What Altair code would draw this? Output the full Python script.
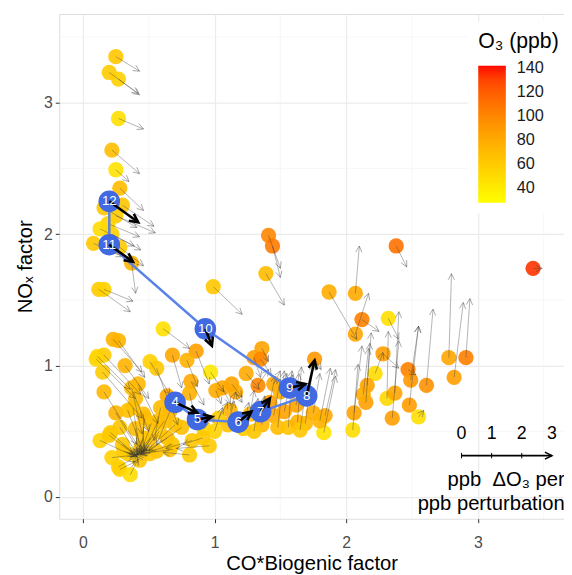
import altair as alt
import numpy as np
import pandas as pd

# ---------------- data ----------------
# scatter points: position, O3 (ppb) and arrow vector (data units)
X = [0.25, 0.20, 0.27, 0.27, 0.22, 0.25, 0.28, 0.30, 0.16, 0.25, 0.19, 0.13, 0.22, 0.08, 0.28, 0.37, 0.12, 0.16,
     1.41, 1.44, 1.39, 0.99, 0.61, 2.38, 3.42, 1.87, 2.07,
     2.12, 2.32, 2.07, 2.28, 2.47, 2.49, 2.61, 2.78, 2.91, 2.82, 2.22, 2.16, 2.15, 2.31, 2.37, 2.35, 2.48, 2.55,
     2.06, 2.05, 1.83, 1.84, 1.76, 2.13,
     1.36, 1.30, 1.35, 1.24, 1.33, 1.13, 1.16, 1.06, 1.01, 0.82, 0.86, 0.79, 0.68, 0.97, 1.45, 1.50,
     1.36, 1.45, 1.48, 1.56, 1.53, 1.63, 1.69, 1.62, 1.42, 1.27, 1.22, 1.10, 1.03, 1.00, 1.12, 1.75, 1.80, 1.65,
     1.30, 0.92,
     0.23, 0.27, 0.11, 0.16, 0.32, 0.15, 0.51, 0.56, 0.42, 0.16, 0.40, 0.64, 0.81, 0.25, 0.34, 0.47, 0.57, 0.66,
     0.13, 0.21, 0.28, 0.51, 0.64, 0.75, 0.83, 0.96, 0.81, 0.22, 0.31, 0.28, 0.36, 0.43, 0.56, 0.66, 0.91, 0.37,
     0.59, 0.46, 0.38, 0.20, 0.58, 0.46, 0.68, 0.51, 0.34, 0.27, 0.70, 0.10,
     0.40, 0.52, 0.30, 0.62, 0.44]
Y = [3.35, 3.23, 3.18, 2.88, 2.64, 2.49, 2.35, 2.22, 2.20, 2.14, 2.08, 2.04, 2.00, 1.93, 1.90, 1.78, 1.58, 1.58,
     1.99, 1.91, 1.70, 1.60, 1.28, 1.91, 1.74, 1.56, 1.55,
     1.35, 1.36, 1.24, 1.09, 0.97, 0.89, 0.85, 1.06, 1.06, 0.91, 0.94, 0.85, 0.72, 0.75, 0.79, 0.60, 0.70, 0.61,
     0.64, 0.51, 0.49, 0.62, 1.05, 0.78,
     1.13, 1.06, 1.05, 0.94, 0.85, 0.86, 0.80, 0.83, 0.81, 0.88, 1.11, 1.04, 1.08, 0.95, 0.86, 0.80,
     0.55, 0.62, 0.53, 0.53, 0.65, 0.57, 0.56, 0.70, 0.72, 0.63, 0.52, 0.55, 0.60, 0.50, 0.66, 0.64, 0.58, 0.51,
     0.50, 0.52,
     1.20, 1.19, 1.07, 1.08, 1.00, 0.95, 1.03, 0.98, 0.86, 0.80, 0.75, 0.77, 0.79, 0.64, 0.66, 0.60, 0.58, 0.65,
     0.43, 0.49, 0.53, 0.45, 0.45, 0.53, 0.43, 0.39, 0.32, 0.30, 0.35, 0.21, 0.17, 0.28, 0.35, 0.36, 0.45, 0.83,
     0.68, 0.63, 0.68, 0.47, 0.50, 0.45, 0.40, 0.33, 0.33, 0.23, 0.55, 1.05,
     0.52, 0.56, 0.40, 0.58, 0.38]
O3 = [62, 60, 58, 48, 68, 46, 70, 64, 62, 60, 56, 50, 58, 62, 60, 74, 60, 56,
      100, 106, 70, 62, 48, 110, 134, 78, 80,
      102, 48, 82, 86, 102, 90, 94, 82, 104, 86, 50, 84, 86, 52, 82, 86, 88, 48,
      84, 50, 46, 80, 90, 78,
      84, 86, 100, 80, 100, 84, 80, 82, 78, 80, 86, 76, 82, 42, 80, 76,
      72, 80, 70, 66, 84, 76, 72, 84, 88, 70, 60, 66, 60, 56, 74, 78, 74, 62,
      64, 54,
      76, 74, 52, 60, 74, 60, 58, 62, 72, 72, 70, 80, 76, 74, 66, 70, 68, 74,
      56, 60, 64, 66, 70, 68, 62, 60, 60, 58, 62, 56, 50, 64, 66, 66, 62, 70,
      70, 70, 66, 62, 64, 64, 64, 62, 60, 58, 66, 54,
      68, 66, 62, 68, 64]
DX = [0.18, 0.22, 0.16, 0.19, 0.21, 0.10, 0.18, 0.24, 0.25, 0.30, 0.24, 0.26, 0.22, 0.22, 0.18, 0.03, 0.24, 0.22,
      0.09, 0.06, 0.14, 0.22, 0.20, 0.08, 0.07, 0.21, 0.03,
      0.13, 0.08, 0.10, 0.12, 0.06, 0.06, 0.05, 0.02, 0.03, 0.07, 0.06, 0.03, 0.03, 0.01, 0.03, 0.05, 0.07, 0.04,
      0.06, 0.04, 0.09, 0.08, 0.05, 0.04,
      0.05, 0.05, 0.08, 0.10, 0.08, 0.08, 0.05, 0.06, 0.04, 0.10, 0.10, 0.08, 0.07, 0.10, 0.05, 0.05,
      0.02, 0.05, 0.05, 0.03, 0.06, 0.03, 0.06, 0.02, 0.04, 0.03, 0.04, 0.05, 0.07, 0.06, 0.04, 0.05, 0.08, 0.05,
      0.03, 0.08,
      0.22, 0.20, 0.25, 0.28, 0.18, 0.30, 0.15, 0.10, 0.15, 0.25, 0.10, 0.08, 0.05, 0.18, 0.12, -0.03, -0.10, -0.10,
      0.26, 0.20, 0.13, -0.10, -0.18, -0.25, -0.20, -0.25, -0.20, 0.18, 0.10, 0.12, 0.06, -0.02, -0.12, -0.22, -0.15, 0.08,
      -0.05, 0.00, 0.05, 0.18, -0.12, -0.05, -0.25, -0.10, 0.07, 0.14, -0.22, 0.30,
      0.02, -0.08, 0.10, -0.18, -0.02]
DY = [-0.11, -0.16, -0.12, -0.08, -0.18, -0.09, -0.17, -0.16, -0.15, -0.13, -0.10, -0.13, -0.12, -0.10, -0.14, -0.23, -0.17, -0.09,
      -0.25, -0.24, -0.24, -0.21, -0.15, -0.16, 0.00, -0.36, 0.36,
      -0.09, -0.16, 0.31, -0.11, -0.04, 0.41, 0.58, 0.64, 0.45, 0.57, 0.16, 0.40, 0.45, 0.51, 0.62, 0.59, 0.60, 0.05,
      0.51, 0.50, 0.43, 0.35, -0.08, 0.35,
      -0.10, -0.15, -0.12, -0.12, 0.12, -0.10, -0.08, -0.12, -0.10, -0.18, -0.25, -0.20, -0.25, -0.15, 0.10, 0.14,
      0.22, 0.28, 0.43, 0.40, 0.31, 0.42, 0.45, 0.24, 0.20, 0.18, 0.20, 0.18, 0.12, 0.18, 0.14, 0.30, 0.40, 0.35,
      0.25, 0.10,
      -0.25, -0.28, -0.25, -0.30, -0.25, -0.35, -0.25, -0.28, -0.30, -0.40, -0.25, -0.22, -0.22, -0.30, -0.32, -0.28, -0.22, -0.25,
      -0.12, -0.18, -0.20, -0.13, -0.12, -0.18, -0.06, -0.02, 0.02, 0.02, -0.04, 0.06, 0.12, 0.03, -0.02, -0.03, -0.05, -0.35,
      -0.25, -0.28, -0.30, -0.14, -0.16, -0.13, -0.08, -0.01, -0.01, 0.08, -0.20, -0.30,
      -0.20, -0.22, -0.08, -0.24, -0.06]

# numbered trajectory (blue) and its sensitivity arrows (black)
SEQ_LABEL = [4, 5, 6, 7, 8, 9, 10, 11, 12]
SEQ_X = [0.70, 0.87, 1.18, 1.35, 1.70, 1.57, 0.93, 0.20, 0.20]
SEQ_Y = [0.72, 0.59, 0.57, 0.65, 0.77, 0.83, 1.28, 1.92, 2.25]
SEQ_DX = [0.17, 0.11, 0.10, 0.07, 0.06, 0.12, 0.05, 0.18, 0.22]
SEQ_DY = [-0.08, 0.02, 0.08, 0.10, 0.27, 0.03, -0.13, -0.13, -0.16]

# arrow-length key (ppb dO3 per ppb perturbation)
KEY_VALUES = [0, 1, 2, 3]
KEY_X0 = 2.876
KEY_UNIT = 0.229
KEY_LINE_Y = 0.315
KEY_LABEL_Y = 0.48
KEY_TEXT = ["ppb\u00a0\u00a0\u0394O\u2083 per", "ppb perturbation"]
KEY_TEXT_Y = [0.128, -0.053]
KEY_TEXT_X = 3.66

MAJOR = [0, 1, 2, 3]
MINOR = [0.5, 1.5, 2.5, 3.5]
LEGEND_VALUES = [40, 60, 80, 100, 120, 140]

# ---------------- layout ----------------
XDOM = [-0.18, 3.655]
YDOM = [-0.165, 3.675]
W, H = 512, 512
SX = W / (XDOM[1] - XDOM[0])
SY = H / (YDOM[1] - YDOM[0])
FONT = "Liberation Sans"
HEAD = "M-0.5,1L0,0L0.5,1"

pts = pd.DataFrame(dict(x=X, y=Y, o3=O3, dx=DX, dy=DY))
pts["x2"] = pts.x + pts.dx
pts["y2"] = pts.y + pts.dy
pts["ang"] = (np.degrees(np.arctan2(pts.dx * SX, pts.dy * SY)) + 360) % 360

seq = pd.DataFrame(dict(lab=SEQ_LABEL, x=SEQ_X, y=SEQ_Y, dx=SEQ_DX, dy=SEQ_DY))
seq["i"] = range(len(seq))
seq["x2"] = seq.x + seq.dx
seq["y2"] = seq.y + seq.dy
seq["ang"] = (np.degrees(np.arctan2(seq.dx * SX, seq.dy * SY)) + 360) % 360

key = pd.DataFrame(dict(v=KEY_VALUES))
key["x"] = KEY_X0 + key.v * KEY_UNIT
key["y"] = KEY_LINE_Y
key["ly"] = KEY_LABEL_Y
key["t"] = key.v.astype(str)
key_line = pd.DataFrame(dict(x=[KEY_X0], x2=[KEY_X0 + KEY_VALUES[-1] * KEY_UNIT], y=[KEY_LINE_Y], ang=[90.0]))
key_text = pd.DataFrame(dict(x=[KEY_TEXT_X] * 2, y=KEY_TEXT_Y, t=KEY_TEXT))

xaxis = alt.Axis(values=MAJOR, format="d", grid=True, gridColor="#EBEBEB", gridWidth=1.2, domain=False,
                 tickColor="#333333", tickSize=4, labelColor="#4D4D4D", labelFontSize=16, labelPadding=12,
                 labelFont=FONT, title="CO*Biogenic factor", titleFont=FONT, titleFontSize=20.5,
                 titleFontWeight="normal", titleColor="black", titlePadding=4)
yaxis = alt.Axis(values=MAJOR, format="d", grid=True, gridColor="#EBEBEB", gridWidth=1.2, domain=False,
                 tickColor="#333333", tickSize=4, labelColor="#4D4D4D", labelFontSize=16, labelPadding=3,
                 labelFont=FONT, title="NO\u2093 factor", titleFont=FONT, titleFontSize=20.5,
                 titleFontWeight="normal", titleColor="black", titlePadding=8)
xs = alt.Scale(domain=XDOM, nice=False, zero=False)
ys = alt.Scale(domain=YDOM, nice=False, zero=False)


def X_(f):
    return alt.X(f, type="quantitative", scale=xs, axis=xaxis)


def Y_(f):
    return alt.Y(f, type="quantitative", scale=ys, axis=yaxis)


minor_df = pd.DataFrame(dict(v=MINOR))
minor_x = alt.Chart(minor_df).mark_rule(color="#F2F2F2", strokeWidth=0.6).encode(x=X_("v"))
minor_y = alt.Chart(minor_df).mark_rule(color="#F2F2F2", strokeWidth=0.6).encode(y=Y_("v"))

color = alt.Color("o3:Q",
                  scale=alt.Scale(domain=[27.7, 141.6], range=["#FFFF00", "#FF0000"], interpolate="lab"),
                  legend=alt.Legend(orient="none", legendX=415, legendY=8, direction="vertical",
                                    gradientLength=139, gradientThickness=28, gradientStrokeWidth=0,
                                    gradientOpacity=1,
                                    title="O\u2083 (ppb)", titleFont=FONT, titleFontSize=21.5,
                                    titleFontWeight="normal", titleColor="black", titlePadding=13,
                                    labelFont=FONT, labelFontSize=16.5, labelColor="#1A1A1A",
                                    labelOffset=11, values=LEGEND_VALUES, labelOverlap=False,
                                    fillColor="white", padding=10, zindex=1))

points = alt.Chart(pts).mark_circle(size=240, opacity=0.9).encode(x=X_("x"), y=Y_("y"), color=color)
shafts = alt.Chart(pts).mark_rule(color="#333333", strokeWidth=0.6, opacity=0.62).encode(
    x=X_("x"), y=Y_("y"), x2="x2", y2="y2")
heads = alt.Chart(pts).mark_point(shape=HEAD, filled=False, size=160, color="#333333",
                                  strokeWidth=0.6, opacity=0.65).encode(
    x=X_("x2"), y=Y_("y2"), angle=alt.Angle("ang:Q", scale=None))

bline = alt.Chart(seq).mark_line(color="#5A82E8", strokeWidth=2.5).encode(
    x=X_("x"), y=Y_("y"), order="i:Q")
bpts = alt.Chart(seq).mark_circle(size=480, opacity=1, color="#4169E1").encode(x=X_("x"), y=Y_("y"))
bshaft = alt.Chart(seq).mark_rule(color="black", strokeWidth=2.6).encode(
    x=X_("x"), y=Y_("y"), x2="x2", y2="y2")
bhead = alt.Chart(seq).mark_point(shape=HEAD, filled=False, size=300, color="black",
                                  strokeWidth=2.6, opacity=1).encode(
    x=X_("x2"), y=Y_("y2"), angle=alt.Angle("ang:Q", scale=None))
blab = alt.Chart(seq).mark_text(color="white", fontSize=13.5, font=FONT).encode(
    x=X_("x"), y=Y_("y"), text="lab:N")

kline = alt.Chart(key_line).mark_rule(color="black", strokeWidth=1.6).encode(
    x=X_("x"), x2="x2", y=Y_("y"))
khead = alt.Chart(key_line).mark_point(shape=HEAD, filled=False, size=200, color="black",
                                       strokeWidth=1.6, opacity=1).encode(
    x=X_("x2"), y=Y_("y"), angle=alt.Angle("ang:Q", scale=None))
kticks = alt.Chart(key[key.v < KEY_VALUES[-1]]).mark_point(shape="M0,-1L0,1", filled=False, size=30,
                                                          color="black", strokeWidth=1, opacity=1).encode(
    x=X_("x"), y=Y_("y"))
klabs = alt.Chart(key).mark_text(fontSize=18, font=FONT, color="black").encode(
    x=X_("x"), y=Y_("ly"), text="t:N")
ktext = alt.Chart(key_text).mark_text(fontSize=20.5, font=FONT, color="black", align="right").encode(
    x=X_("x"), y=Y_("y"), text="t:N")

chart = alt.layer(minor_x, minor_y, points, shafts, heads, bline, bpts, bshaft, bhead, blab,
                  kline, khead, kticks, klabs, ktext).properties(
    width=W, height=H, autosize=alt.AutoSizeParams(type="none"),
    padding={"left": 52, "top": 2, "right": 0, "bottom": 53}
).configure_view(stroke="#333333", strokeWidth=1.2).configure(font=FONT)

chart.save("out.html", embed_options={"renderer": "svg", "actions": False})
